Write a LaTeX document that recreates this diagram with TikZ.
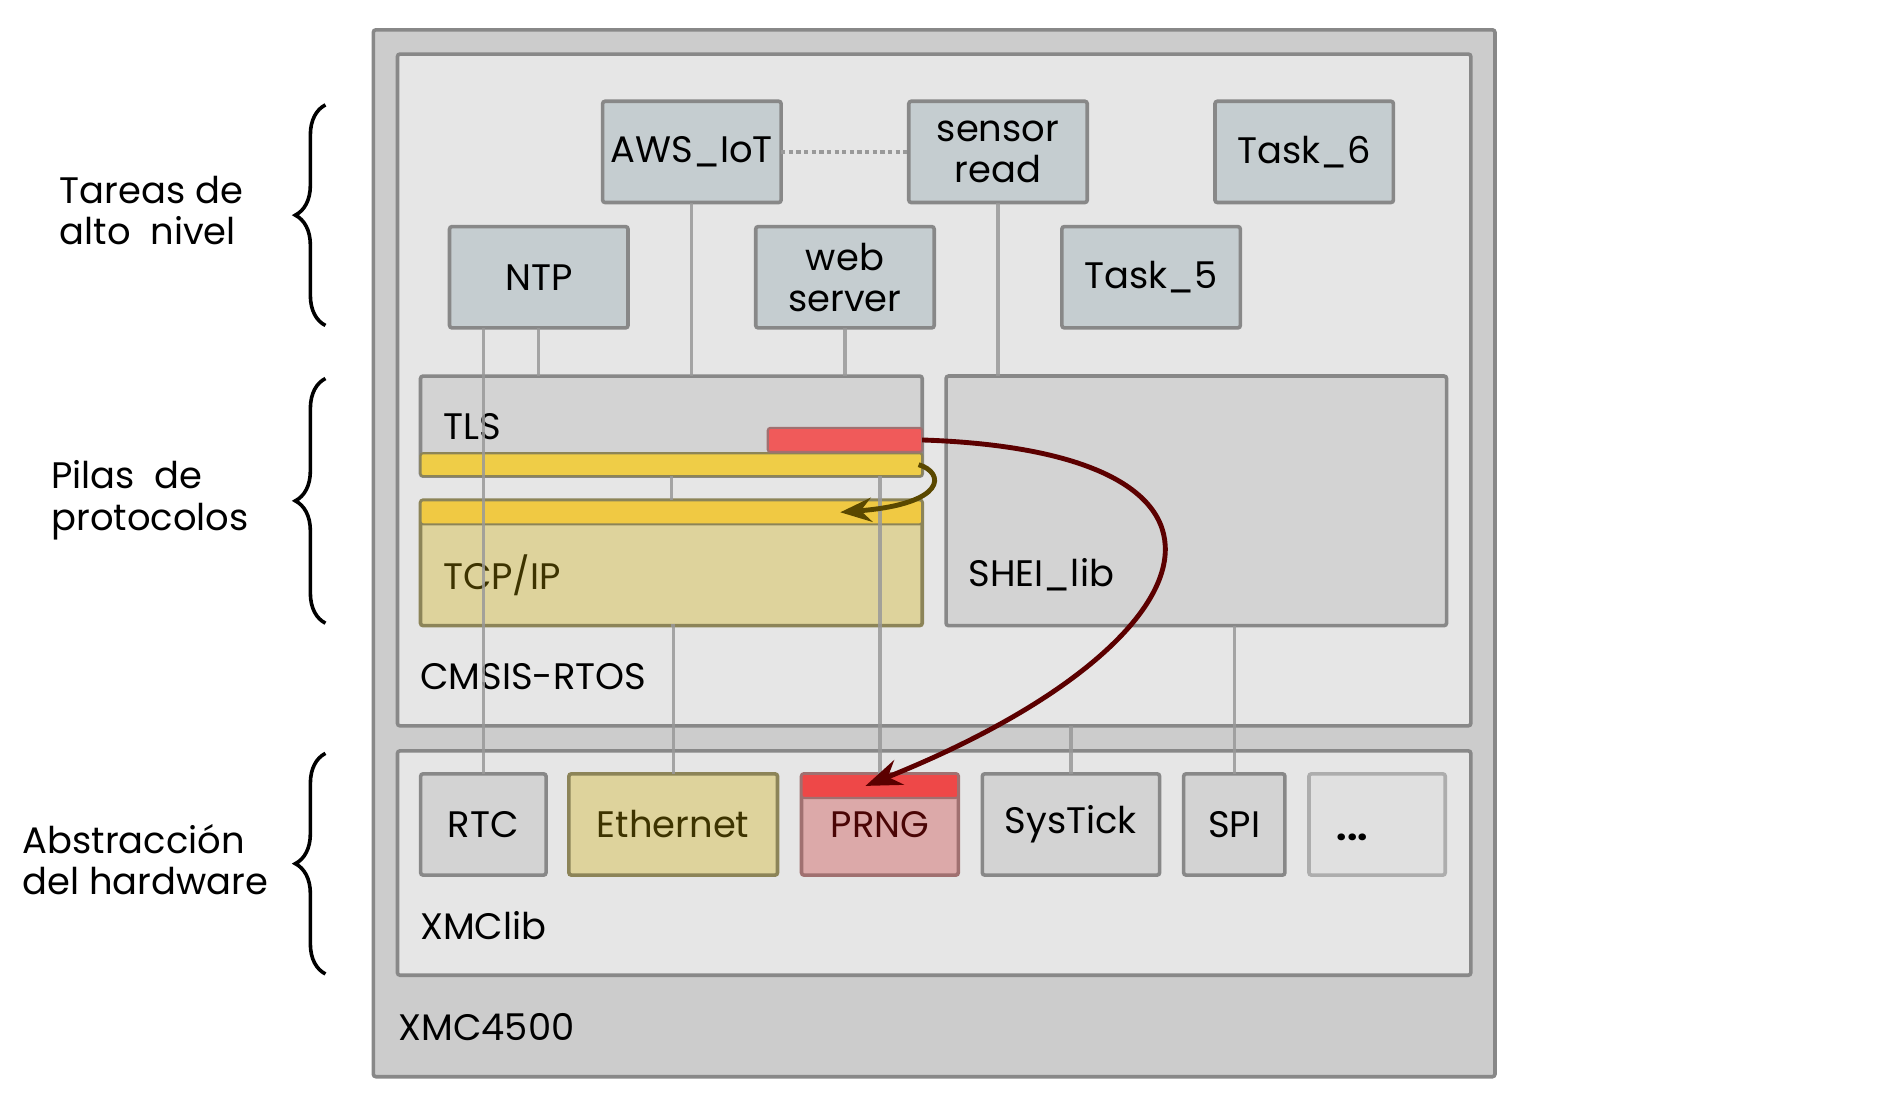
\documentclass[tikz,border=0pt]{standalone}
\usepackage{fontspec}
\setmainfont{Poppins}
\usetikzlibrary{positioning, arrows.meta, calc, decorations.pathreplacing}
\definecolor{chipGray}{HTML}{CCCCCC}
\definecolor{panelGray}{HTML}{E6E6E6}
\definecolor{edgeGray}{HTML}{888888}
\definecolor{taskBlue}{HTML}{C5CDD0}
\definecolor{libGray}{HTML}{D3D3D3}
\definecolor{wireGray}{HTML}{999999}
\definecolor{stackTan}{HTML}{DED39C}
\definecolor{stackBar}{HTML}{EFCD47}
\definecolor{stackEdge}{HTML}{8C8458}
\definecolor{stackText}{HTML}{3D3300}
\definecolor{rngPink}{HTML}{DCA9A9}
\definecolor{rngRed}{HTML}{EE4848}
\definecolor{rngEdge}{HTML}{A07070}
\definecolor{rngText}{HTML}{4A0505}
\definecolor{flowRed}{HTML}{5C0000}
\definecolor{flowOlive}{HTML}{5A4800}

\begin{document}
\begin{tikzpicture}[x=0.01cm, y=-0.01cm,
    swChip/.style={draw=edgeGray, line width=0.85pt, rectangle, rounded corners=0.6pt, fill=chipGray, inner sep=0pt, outer sep=0pt},
    swPanel/.style={draw=edgeGray, line width=0.85pt, rectangle, rounded corners=0.6pt, fill=panelGray, inner sep=0pt, outer sep=0pt},
    swTask/.style={draw=edgeGray, line width=0.85pt, rectangle, rounded corners=0.6pt, fill=taskBlue, align=center, font=\fontsize{8.7}{9.7}\selectfont, minimum width=1.48cm, minimum height=0.84cm, inner sep=0pt, outer sep=0pt},
    swLib/.style={draw=edgeGray, line width=0.85pt, rectangle, rounded corners=0.6pt, fill=libGray, align=center, font=\fontsize{8.7}{9.7}\selectfont, minimum height=0.84cm, inner sep=0pt, outer sep=0pt},
    swStack/.style={draw=stackEdge, line width=0.85pt, rectangle, rounded corners=0.6pt, fill=stackTan, text=stackText, align=center, font=\fontsize{8.7}{9.7}\selectfont, minimum height=0.84cm, inner sep=0pt, outer sep=0pt},
    swBar/.style={draw=stackEdge, line width=0.5pt, rectangle, rounded corners=0.6pt, fill=stackBar, inner sep=0pt, outer sep=0pt},
    swRng/.style={draw=rngEdge, line width=0.5pt, rectangle, rounded corners=0.6pt, fill=rngRed, inner sep=0pt, outer sep=0pt},
    swLabel/.style={font=\fontsize{8.7}{9.7}\selectfont, anchor=west, inner sep=0pt, align=left},
    swWire/.style={draw=wireGray, line width=0.75pt, opacity=0.85},
    swBrace/.style={draw=black, line width=0.85pt, decorate, decoration={brace, amplitude=0.25cm}},
    swFlow/.style={line width=1.15pt, -{Stealth[length=0.3cm, width=0.22cm, inset=0.1cm]}},
]
\useasboundingbox (0,0) rectangle (1568,914);

% hardware and software layers
\node[swChip, minimum width=9.30cm, minimum height=8.68cm] (xmc) at (775,459) {};
\node[swPanel, minimum width=8.90cm, minimum height=5.57cm] (cmsis) at (775,323.5) {};
\node[swPanel, minimum width=8.90cm, minimum height=1.86cm] (xmclib) at (775,716) {};
\node[swLabel] (xmcLbl) at (330,852) {XMC4500};
\node[swLabel] (cmsisLbl) at (348,561) {CMSIS-RTOS};
\node[swLabel] (xmclibLbl) at (348,768) {XMClib};

% high level tasks
\node[swTask] (aws) at (574,126) {AWS\_IoT};
\node[swTask] (sensor) at (828,126) {sensor\\read};
\node[swTask] (task6) at (1082,126) {Task\_6};
\node[swTask] (ntp) at (447,230) {NTP};
\node[swTask] (web) at (701,230) {web\\server};
\node[swTask] (task5) at (955,230) {Task\_5};

% protocol stacks
\node[swLib, minimum width=4.16cm, minimum height=0.83cm] (tls) at (557,353.5) {};
\node[swBar, minimum width=4.16cm, minimum height=0.19cm] (tlsbar) at (557,385.5) {};
\node[swRng, fill=rngRed!90!white, minimum width=1.28cm, minimum height=0.20cm] (tlsrng) at (701,365) {};
\node[swStack, minimum width=4.16cm, minimum height=1.04cm] (tcp) at (557,467) {};
\node[swBar, fill=stackBar!95!orange, minimum width=4.16cm, minimum height=0.20cm] (tcpbar) at (557,425) {};
\node[swLib, minimum width=4.15cm, minimum height=2.07cm] (shei) at (992.5,415.5) {};
\node[swLabel] (tlsLbl) at (367,354) {TLS};
\node[swLabel, text=stackText] (tcpLbl) at (367,477) {TCP/IP};
\node[swLabel] (sheiLbl) at (803,477) {SHEI\_lib};

% peripheral drivers
\node[swLib, minimum width=1.04cm] (rtc) at (401,684) {RTC};
\node[swStack, minimum width=1.73cm] (eth) at (558.5,684) {Ethernet};
\node[swStack, draw=rngEdge, fill=rngPink, text=rngText, minimum width=1.30cm] (prng) at (730,684) {PRNG};
\node[swRng, minimum width=1.30cm, minimum height=0.20cm] (prngbar) at (730,652) {};
\node[swLib, minimum width=1.47cm] (systick) at (888.5,684) {SysTick};
\node[swLib, minimum width=0.84cm] (spi) at (1024,684) {SPI};
\node[swLib, draw=wireGray!80, fill=libGray!70!white, minimum width=1.13cm] (dots) at (1142.5,684) {};
\node[swLabel, anchor=base, font=\fontsize{8.7}{9.7}\selectfont\bfseries] (dotsLbl) at (1122,697) {{.}{.}{.}};

% connectors
\draw[swWire, opacity=1, dash pattern=on 1pt off 0.8pt, line width=0.9pt] (aws.east) -- (sensor.west);
\draw[swWire] (ntp.south -| rtc.north) -- (rtc.north);
\draw[swWire] (ntp.south) -- (ntp.south |- tls.north);
\draw[swWire] (aws.south) -- (aws.south |- tls.north);
\draw[swWire] (web.south) -- (web.south |- tls.north);
\draw[swWire] (sensor.south) -- (sensor.south |- shei.north);
\draw[swWire] (tls.south) -- (tcp.north);
\draw[swWire] (prng.north |- tls.south) -- (prngbar.north);
\draw[swWire] (tcp.south) -- (tcp.south -| eth.north) -- (eth.north);
\draw[swWire] (systick.north |- cmsis.south) -- (systick.north);
\draw[swWire] (spi.north |- shei.south) -- (spi.north);

% random numbers for TLS
\draw[swFlow, flowOlive, -{Stealth[length=0.26cm, width=0.2cm, inset=0.09cm]}] ($(tlsbar.east)+(-3,0)$) .. controls (784,392) and (786,418) .. ($(tcpbar.east)+(-68,0)$);
\draw[swFlow, flowRed] (tlsrng.east) .. controls (1065,375) and (1010,535) .. ($(prngbar.center)+(-12,0)$);

% layer braces
\draw[swBrace] (270,270) -- (270,87);
\draw[swBrace] (270,517) -- (270,314);
\draw[swBrace] (270,808) -- (270,625);
\node[swLabel] (lvlTasks) at (49,175) {Tareas de\\alto\ \ nivel};
\node[swLabel] (lvlStacks) at (42,415) {Pilas\ \ de\\protocolos};
\node[swLabel] (lvlHw) at (18,713) {Abstracción\\del hardware};
\end{tikzpicture}
\end{document}
